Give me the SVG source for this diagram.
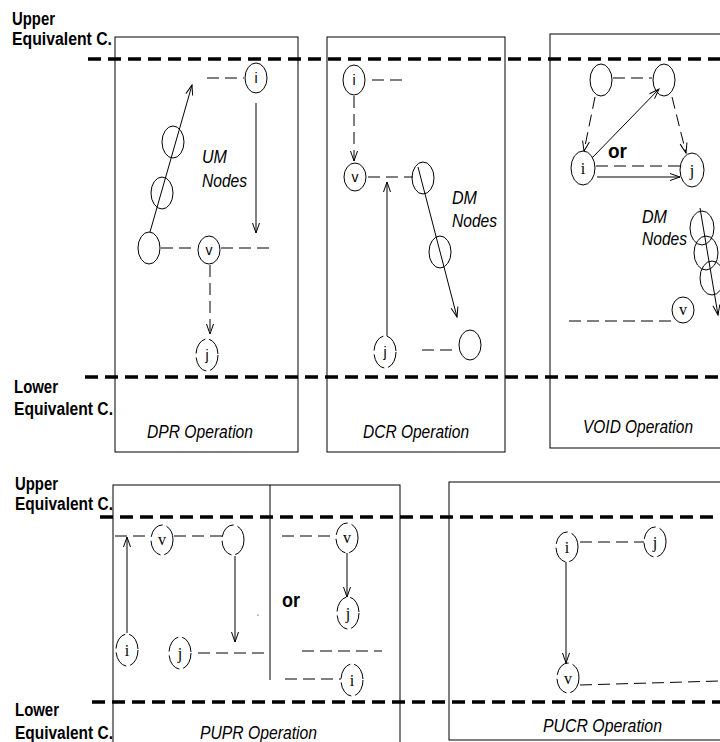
<svg xmlns="http://www.w3.org/2000/svg" width="720" height="742" viewBox="0 0 720 742">
<style>
.bg{fill:#fff}
.box{fill:none;stroke:#000;stroke-width:1}
.eq{stroke:#000;stroke-width:3.5;stroke-dasharray:13 7;fill:none}
.n{fill:#fff;stroke:#000;stroke-width:1}
.nt{fill:none;stroke:#000;stroke-width:1}
.nd{stroke-dasharray:18 4}
.c{fill:none;stroke:#000;stroke-width:1}
.d{stroke-dasharray:12 6}
.a{marker-end:url(#ah)}
.lbl{font-family:"Liberation Sans",Arial,sans-serif;font-weight:bold;font-size:18px;fill:#000}
.op{font-family:"Liberation Sans",Arial,sans-serif;font-style:italic;font-size:18px;fill:#000}
.or{font-family:"Liberation Sans",Arial,sans-serif;font-weight:bold;font-size:20px;fill:#000}
.ts{font-family:"Liberation Sans",Arial,sans-serif;font-size:14px;fill:#000;text-anchor:middle}
.tr{font-family:"Liberation Serif","Times New Roman",serif;font-size:16px;fill:#000;text-anchor:middle}
</style>
<defs>
<marker id="ah" viewBox="-11 -5 12 10" refX="0" refY="0" markerWidth="12" markerHeight="10" markerUnits="userSpaceOnUse" orient="auto">
<path d="M-10,-3.5 L0,0 L-10,3.5" fill="none" stroke="#000" stroke-width="1"/>
</marker>
</defs>
<rect class="bg" x="0" y="0" width="720" height="742"/>

<g id="labels">
<text class="lbl" x="12" y="25" textLength="43" lengthAdjust="spacingAndGlyphs">Upper</text>
<text class="lbl" x="12" y="45" textLength="100" lengthAdjust="spacingAndGlyphs">Equivalent C.</text>
<text class="lbl" x="14" y="393" textLength="44" lengthAdjust="spacingAndGlyphs">Lower</text>
<text class="lbl" x="14" y="415" textLength="99" lengthAdjust="spacingAndGlyphs">Equivalent C.</text>
<text class="lbl" x="15" y="490" textLength="43" lengthAdjust="spacingAndGlyphs">Upper</text>
<text class="lbl" x="15" y="510" textLength="98" lengthAdjust="spacingAndGlyphs">Equivalent C.</text>
<text class="lbl" x="15" y="716" textLength="44" lengthAdjust="spacingAndGlyphs">Lower</text>
<text class="lbl" x="15" y="739" textLength="98" lengthAdjust="spacingAndGlyphs">Equivalent C.</text>
</g>

<g id="panels">
<rect class="box" x="115" y="37" width="183" height="415"/>
<rect class="box" x="327" y="37" width="178" height="415"/>
<rect class="box" x="550" y="34" width="190" height="414"/>
<rect class="box" x="113" y="485" width="287" height="270"/>
<line class="box" x1="270" y1="485" x2="270" y2="680"/>
<rect class="box" x="449" y="482" width="290" height="258"/>
<text class="op" x="147" y="438" textLength="106" lengthAdjust="spacingAndGlyphs">DPR Operation</text>
<text class="op" x="363" y="438" textLength="106" lengthAdjust="spacingAndGlyphs">DCR Operation</text>
<text class="op" x="583" y="433" textLength="110" lengthAdjust="spacingAndGlyphs">VOID Operation</text>
<text class="op" x="200" y="739" textLength="117" lengthAdjust="spacingAndGlyphs">PUPR Operation</text>
<text class="op" x="543" y="732" textLength="119" lengthAdjust="spacingAndGlyphs">PUCR Operation</text>
<text class="op" x="202" y="163" textLength="25" lengthAdjust="spacingAndGlyphs">UM</text>
<text class="op" x="202" y="187" textLength="45" lengthAdjust="spacingAndGlyphs">Nodes</text>
<text class="op" x="452" y="204" textLength="25" lengthAdjust="spacingAndGlyphs">DM</text>
<text class="op" x="452" y="227" textLength="45" lengthAdjust="spacingAndGlyphs">Nodes</text>
<text class="op" x="642" y="223" textLength="25" lengthAdjust="spacingAndGlyphs">DM</text>
<text class="op" x="642" y="245" textLength="45" lengthAdjust="spacingAndGlyphs">Nodes</text>
<text class="or" x="608" y="158" textLength="19" lengthAdjust="spacingAndGlyphs">or</text>
<text class="or" x="282" y="607" textLength="18" lengthAdjust="spacingAndGlyphs">or</text>
<circle cx="258" cy="615" r="0.6" fill="#000"/>
</g>

<g id="equivalence-lines">
<line class="eq" x1="88" y1="59" x2="720" y2="59"/>
<line class="eq" x1="85" y1="377" x2="720" y2="377"/>
<line class="eq" x1="100" y1="517" x2="720" y2="517"/>
<line class="eq" x1="92" y1="702" x2="720" y2="702"/>
</g>

<g id="connectors">
<!-- DPR -->
<line class="c d" x1="207" y1="78" x2="244" y2="78"/>
<line class="c a" x1="256" y1="103" x2="256" y2="233"/>
<line class="c a" x1="150" y1="232" x2="192" y2="85"/>
<line class="c d" x1="161" y1="248" x2="197" y2="248"/>
<line class="c d" x1="221" y1="248" x2="270" y2="248"/>
<line class="c d a" x1="210" y1="265" x2="210" y2="334"/>
<!-- DCR -->
<line class="c d" x1="372" y1="80" x2="407" y2="80"/>
<line class="c d a" x1="354" y1="96" x2="354" y2="161"/>
<line class="c d" x1="368" y1="177" x2="413" y2="177"/>
<line class="c a" x1="418" y1="167" x2="457" y2="317"/>
<line class="c a" x1="387" y1="338" x2="387" y2="182"/>
<line class="c d" x1="422" y1="350" x2="458" y2="350"/>
<!-- VOID -->
<line class="c d" x1="613" y1="78" x2="652" y2="78"/>
<line class="c d a" x1="595" y1="97" x2="584" y2="151"/>
<line class="c d a" x1="672" y1="97" x2="686" y2="153"/>
<line class="c a" x1="592" y1="158" x2="659" y2="89"/>
<line class="c d" x1="596" y1="166" x2="680" y2="166"/>
<line class="c a" x1="597" y1="177" x2="680" y2="177"/>
<line class="c a" x1="700" y1="208" x2="718" y2="315"/>
<line class="c d" x1="569" y1="321" x2="677" y2="321"/>
<!-- PUPR left -->
<line class="c d" x1="115" y1="536" x2="151" y2="536"/>
<line class="c d" x1="174" y1="536" x2="222" y2="536"/>
<line class="c a" x1="127" y1="633" x2="127" y2="537"/>
<line class="c a" x1="235" y1="556" x2="235" y2="642"/>
<line class="c d" x1="198" y1="653" x2="268" y2="653"/>
<!-- PUPR right -->
<line class="c d" x1="282" y1="536" x2="336" y2="536"/>
<line class="c a" x1="347" y1="553" x2="347" y2="597"/>
<line class="c d" x1="302" y1="651" x2="382" y2="651"/>
<line class="c d" x1="285" y1="679" x2="341" y2="679"/>
<!-- PUCR -->
<line class="c d" x1="580" y1="542" x2="644" y2="542"/>
<line class="c a" x1="566" y1="562" x2="566" y2="663"/>
<line class="c d" x1="580" y1="685" x2="720" y2="681"/>
</g>

<g id="n-dpr-i"><ellipse class="n" cx="256" cy="78" rx="11" ry="15"/><text class="ts" x="256" y="83">i</text></g>
<g id="n-dpr-um1"><ellipse class="nt" cx="173" cy="142" rx="11" ry="16"/></g>
<g id="n-dpr-um2"><ellipse class="nt" cx="162" cy="193" rx="11" ry="16"/></g>
<g id="n-dpr-um3"><ellipse class="n" cx="149" cy="248" rx="11" ry="16"/></g>
<g id="n-dpr-v"><ellipse class="n" cx="209" cy="250" rx="11" ry="14"/><text class="ts" x="209" y="255">v</text></g>
<g id="n-dpr-j"><ellipse class="n nd" cx="207" cy="355" rx="11" ry="16"/><text class="ts" x="207" y="360">j</text></g>

<g id="n-dcr-i"><ellipse class="n" cx="354" cy="80" rx="11" ry="15"/><text class="ts" x="354" y="85">i</text></g>
<g id="n-dcr-v"><ellipse class="n" cx="355" cy="177" rx="11" ry="14"/><text class="ts" x="355" y="182">v</text></g>
<g id="n-dcr-dm1"><ellipse class="nt" cx="423" cy="178" rx="11" ry="16"/></g>
<g id="n-dcr-dm2"><ellipse class="nt" cx="440" cy="252" rx="11" ry="16"/></g>
<g id="n-dcr-j"><ellipse class="n nd" cx="385" cy="352" rx="11" ry="16"/><text class="ts" x="385" y="357">j</text></g>
<g id="n-dcr-dm3"><ellipse class="n" cx="470" cy="345" rx="11" ry="15"/></g>

<g id="n-void-p"><ellipse class="n" cx="601" cy="80" rx="11" ry="16"/></g>
<g id="n-void-q"><ellipse class="nt" cx="664" cy="80" rx="11" ry="16"/></g>
<g id="n-void-i"><ellipse class="n" cx="583" cy="168" rx="12" ry="17"/><text class="tr" x="583" y="174">i</text></g>
<g id="n-void-j"><ellipse class="n" cx="692" cy="170" rx="12" ry="17"/><text class="tr" x="692" y="176">j</text></g>
<g id="n-void-dm1"><ellipse class="nt" cx="702" cy="228" rx="12" ry="17"/></g>
<g id="n-void-dm2"><ellipse class="nt" cx="706" cy="253" rx="12" ry="17"/></g>
<g id="n-void-dm3"><ellipse class="nt" cx="712" cy="278" rx="12" ry="17"/></g>
<g id="n-void-v"><ellipse class="n" cx="683" cy="310" rx="11" ry="13"/><text class="tr" x="683" y="315">v</text></g>

<g id="n-pupr-v"><ellipse class="n nd" cx="162" cy="540" rx="11" ry="15"/><text class="tr" x="162" y="545">v</text></g>
<g id="n-pupr-e"><ellipse class="n nd" cx="233" cy="540" rx="11" ry="15"/></g>
<g id="n-pupr-i"><ellipse class="n nd" cx="127" cy="650" rx="11" ry="16"/><text class="tr" x="127" y="656">i</text></g>
<g id="n-pupr-j"><ellipse class="n nd" cx="180" cy="653" rx="11" ry="16"/><text class="tr" x="180" y="659">j</text></g>
<g id="n-pupr-v2"><ellipse class="n nd" cx="347" cy="538" rx="11" ry="15"/><text class="tr" x="347" y="543">v</text></g>
<g id="n-pupr-j2"><ellipse class="n nd" cx="348" cy="613" rx="11" ry="16"/><text class="tr" x="348" y="619">j</text></g>
<g id="n-pupr-i2"><ellipse class="n nd" cx="352" cy="680" rx="11" ry="16"/><text class="tr" x="352" y="686">i</text></g>

<g id="n-pucr-i"><ellipse class="n nd" cx="567" cy="547" rx="11" ry="15"/><text class="tr" x="567" y="553">i</text></g>
<g id="n-pucr-j"><ellipse class="n nd" cx="655" cy="542" rx="11" ry="15"/><text class="tr" x="655" y="548">j</text></g>
<g id="n-pucr-v"><ellipse class="n nd" cx="568" cy="678" rx="11" ry="15"/><text class="tr" x="568" y="684">v</text></g>
</svg>
